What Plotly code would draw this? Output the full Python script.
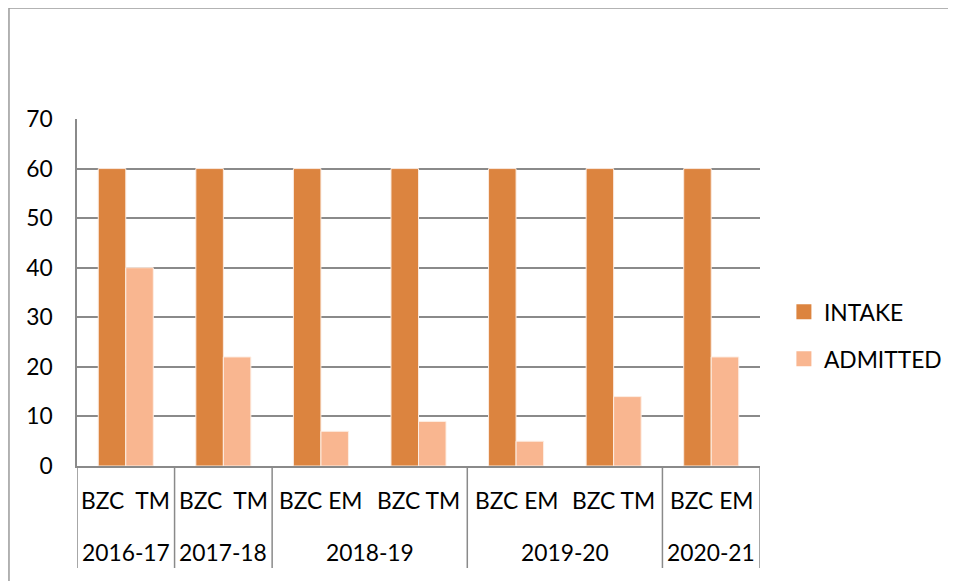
import plotly.graph_objects as go

years = ["2016-17", "2017-18", "2018-19", "2018-19", "2019-20", "2019-20", "2020-21"]
courses = ["BZC\u00a0\u00a0TM", "BZC\u00a0\u00a0TM", "BZC EM", "BZC TM", "BZC EM", "BZC TM", "BZC EM"]
intake = [60, 60, 60, 60, 60, 60, 60]
admitted = [40, 22, 7, 9, 5, 14, 22]
y_ticks = [0, 10, 20, 30, 40, 50, 60, 70]

FONT = "Lato"
FS = 22.8
grid = "#8a8a8a"
C_INTAKE = "#dc843f"
C_ADMIT = "#f9b690"
pos = list(range(len(courses)))

fig = go.Figure()
fig.add_trace(go.Bar(x=pos, y=intake, name="INTAKE", showlegend=False,
                     marker=dict(color=C_INTAKE, line=dict(color="#fbeadf", width=1))))
fig.add_trace(go.Bar(x=pos, y=admitted, name="ADMITTED", showlegend=False,
                     marker=dict(color=C_ADMIT, line=dict(color="#fdeee4", width=1))))
# legend entries with larger square swatches
fig.add_trace(go.Scatter(x=[None], y=[None], mode="markers", name="INTAKE", legend="legend",
                         marker=dict(symbol="square", size=15, color=C_INTAKE)))
fig.add_trace(go.Scatter(x=[None], y=[None], mode="markers", name="ADMITTED", legend="legend2",
                         marker=dict(symbol="square", size=15, color=C_ADMIT)))

leg = dict(xanchor="left", yanchor="middle", bgcolor="rgba(0,0,0,0)",
           font=dict(family=FONT, size=FS, color="#000000"), itemwidth=30)
fig.update_layout(
    width=948, height=573,
    margin=dict(l=69, r=196, t=111, b=115, autoexpand=False),
    paper_bgcolor="white", plot_bgcolor="white",
    barmode="group", bargap=0.436, bargroupgap=0,
    font=dict(family=FONT, size=FS, color="#000000"),
    showlegend=True,
    legend=dict(x=1.035, y=0.4438, **leg),
    legend2=dict(x=1.035, y=0.3084, **leg),
)
fig.update_yaxes(range=[0, 70], tickvals=y_ticks, showgrid=True, gridcolor=grid, gridwidth=1.5,
                 showline=True, linecolor=grid, linewidth=1.5, ticks="", zeroline=False,
                 tickfont=dict(family=FONT, size=FS), ticklabelstandoff=18, automargin=False)
fig.update_xaxes(range=[-0.5, len(courses) - 0.5], showticklabels=False, showgrid=False,
                 zeroline=False, showline=True, linecolor=grid, linewidth=1.5, ticks="",
                 automargin=False)

# inner category labels
for p, c in zip(pos, courses):
    fig.add_annotation(x=p, y=-0.098, xref="x", yref="paper", text=c, showarrow=False,
                       font=dict(family=FONT, size=FS, color="#000000"),
                       xanchor="center", yanchor="middle")

# outer (year) labels and group dividers
groups = []
for i, yv in enumerate(years):
    if groups and groups[-1][0] == yv:
        groups[-1][2] = i
    else:
        groups.append([yv, i, i])
bounds = [groups[0][1] - 0.5] + [g[2] + 0.5 for g in groups]
for yv, a, b in groups:
    fig.add_annotation(x=(a + b) / 2, y=-0.248, xref="x", yref="paper", text=yv, showarrow=False,
                       font=dict(family=FONT, size=FS, color="#000000"),
                       xanchor="center", yanchor="middle")
for bx in bounds:
    fig.add_shape(type="line", xref="x", yref="paper", x0=bx, x1=bx, y0=0, y1=-0.294,
                  line=dict(color=grid, width=1.5))

# outer chart border (decoration)
fig.add_shape(type="line", xref="paper", yref="paper", x0=-0.0996, y0=-0.4, x1=-0.0996, y1=1.3199,
              line=dict(color="#9a9a9a", width=1.5))
fig.add_shape(type="line", xref="paper", yref="paper", x0=-0.0996, y0=1.3199, x1=1.3, y1=1.3199,
              line=dict(color="#9a9a9a", width=1.5))

fig.write_html("out.html")
